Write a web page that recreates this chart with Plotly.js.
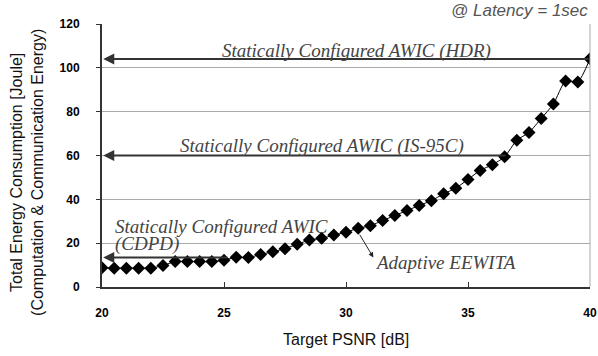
<!DOCTYPE html>
<html>
<head>
<meta charset="utf-8">
<script src="https://cdn.plot.ly/plotly-3.0.1.min.js"></script>
<style>html,body{margin:0;padding:0;background:#fff}#chart{width:598px;height:356px}</style>
</head>
<body>
<div id="chart"></div>
<script>
const psnr = [20,20.5,21,21.5,22,22.5,23,23.5,24,24.5,25,25.5,26,26.5,27,27.5,28,28.5,29,29.5,30,30.5,31,31.5,32,32.5,33,33.5,34,34.5,35,35.5,36,36.5,37,37.5,38,38.5,39,39.5,40];
const energy = [8.8,8.6,8.6,8.6,8.6,9.8,11.6,11.6,11.6,11.6,12.2,13.6,13.5,14.8,16.1,17.5,19.5,21.4,22.2,23.7,25.0,26.8,28.0,30.3,32.6,34.9,37.2,39.4,42.5,45.1,49.1,53.2,55.8,59.4,67.0,70.5,76.9,83.5,94.0,93.5,104.1];
const staticLabels = ["Statically Configured AWIC (HDR)", "Statically Configured AWIC (IS-95C)", "Statically Configured AWIC", "(CDPD)"];
const staticEnergy = [104, 60, 13.5];
const staticTailPsnr = [40, 36.6, 25.2];
const adaptiveLabel = "Adaptive EEWITA";
const yTitle = "Total Energy Consumption [Joule]<br>(Computation & Communication Energy)";
const xTitle = "Target PSNR [dB]";
const noteText = "@ Latency = 1sec";

const serif = {family: "Liberation Serif", size: 19, color: "#444", style: 'italic'};
const annotations = [];
for (let i = 0; i < staticEnergy.length; i++) {
  annotations.push({x: 20.05, y: staticEnergy[i], ax: staticTailPsnr[i], ay: staticEnergy[i], xref: 'x', yref: 'y', axref: 'x', ayref: 'y',
    showarrow: true, text: '', arrowhead: 2, arrowsize: 1.1, arrowwidth: 2, arrowcolor: '#333'});
}
annotations.push({x: 30.43, y: 107.6, xref: 'x', yref: 'y', text: staticLabels[0], showarrow: false, font: serif, xanchor: 'center', yanchor: 'middle'});
annotations.push({x: 29.0, y: 64.2, xref: 'x', yref: 'y', text: staticLabels[1], showarrow: false, font: serif, xanchor: 'center', yanchor: 'middle'});
annotations.push({x: 20.45, y: 27.6, xref: 'x', yref: 'y', text: staticLabels[2], showarrow: false, font: serif, xanchor: 'left', yanchor: 'middle'});
annotations.push({x: 20.45, y: 19.4, xref: 'x', yref: 'y', text: staticLabels[3], showarrow: false, font: serif, xanchor: 'left', yanchor: 'middle'});
annotations.push({x: 31.12, y: 13.5, ax: 30.53, ay: 24.5, xref: 'x', yref: 'y', axref: 'x', ayref: 'y',
  showarrow: true, text: '', arrowhead: 2, arrowsize: 1, arrowwidth: 1, arrowcolor: '#222'});
annotations.push({x: 31.12, y: 11.4, xref: 'x', yref: 'y', text: adaptiveLabel, showarrow: false, font: serif, xanchor: 'left', yanchor: 'middle'});
annotations.push({x: 1, y: 1.05, xref: 'paper', yref: 'paper', text: noteText, showarrow: false,
  font: {family: "Liberation Sans", size: 17, color: "#555", style: 'italic'}, xanchor: 'right', yanchor: 'middle'});
annotations.push({x: -0.154, y: 0.437, xref: 'paper', yref: 'paper', text: yTitle, textangle: -90, showarrow: false,
  font: {family: "Liberation Sans", size: 16, color: "#111"}, xanchor: 'center', yanchor: 'middle'});
annotations.push({x: 0.5, y: -0.2, xref: 'paper', yref: 'paper', text: xTitle, showarrow: false,
  font: {family: "Liberation Sans", size: 16, color: "#111"}, xanchor: 'center', yanchor: 'middle'});

const trace = {
  x: psnr, y: energy, type: 'scatter', mode: 'lines+markers',
  line: {color: '#000', width: 1, shape: 'spline', smoothing: 0.6},
  marker: {symbol: 'diamond', size: 10, color: '#000'},
  hoverinfo: 'skip'
};

const tickfont = {family: "Liberation Sans", size: 12, color: "#000", weight: 700};
const layout = {
  width: 598, height: 356,
  margin: {l: 102, r: 8, t: 24, b: 69},
  paper_bgcolor: '#fff', plot_bgcolor: '#fff',
  showlegend: false,
  xaxis: {range: [20, 40], tickvals: [20, 25, 30, 35, 40], showgrid: false, zeroline: false,
    showline: true, linecolor: '#333', linewidth: 2, ticks: 'inside', ticklen: 5, tickcolor: '#333', tickwidth: 1,
    tickfont: tickfont, ticklabelstandoff: 14},
  yaxis: {range: [0, 120], tickvals: [0, 20, 40, 60, 80, 100, 120], showgrid: true, gridcolor: '#aaa', gridwidth: 1, zeroline: false,
    showline: true, linecolor: '#333', linewidth: 2, ticks: 'outside', ticklen: 4, tickcolor: '#333', tickwidth: 1,
    tickfont: tickfont, ticklabelstandoff: 14},
  shapes: [{type: 'line', xref: 'paper', yref: 'paper', x0: 1, x1: 1, y0: 0, y1: 1, line: {color: '#aaa', width: 1}}],
  annotations: annotations
};

Plotly.newPlot('chart', [trace], layout, {displayModeBar: false, staticPlot: true});
</script>
</body>
</html>
